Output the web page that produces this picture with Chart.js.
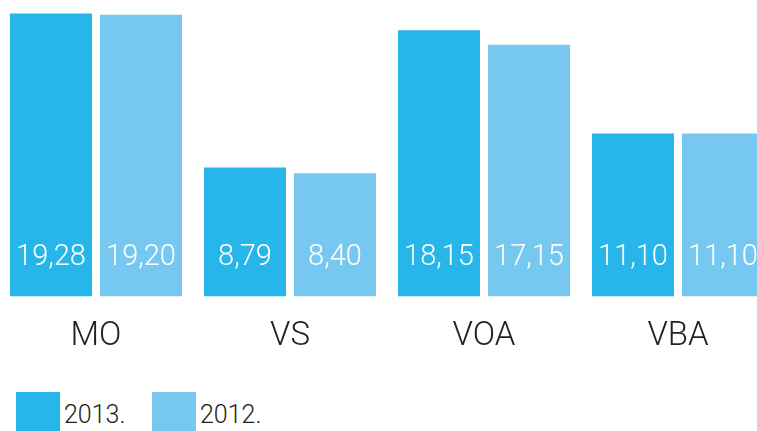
<!DOCTYPE html>
<html>
<head>
<meta charset="utf-8">
<script src="https://cdn.jsdelivr.net/npm/chart.js@4/dist/chart.umd.min.js"></script>
<style>
  html, body { margin: 0; padding: 0; width: 757px; height: 431px; overflow: hidden; background: #fff; }
  #wrap { position: absolute; left: -1px; top: 0; width: 776px; height: 378px; }
  #legend { position: absolute; left: 16px; top: 392px; font-family: Roboto, "Open Sans", sans-serif; font-weight: 300; font-size: 25px; color: #231f20; }
  .item { position: absolute; top: 0; white-space: nowrap; }
  .box { position: absolute; left: 0; top: 0; width: 44px; height: 42px; }
  .lbl { position: absolute; left: 48px; top: 8px; line-height: 30px; }
</style>
</head>
<body>
<div id="wrap"><canvas id="c"></canvas></div>
<div id="legend"></div>
<script>
const categories = ["MO", "VS", "VOA", "VBA"];
const seriesNames = ["2013.", "2012."];
const values2013 = [19.28, 8.79, 18.15, 11.10];
const values2012 = [19.20, 8.40, 17.15, 11.10];
const colors = ["#27b6e9", "#77c8f0"];

const valueLabels = {
  id: 'valueLabels',
  afterDatasetsDraw(chart) {
    const ctx = chart.ctx;
    ctx.save();
    ctx.fillStyle = '#ffffff';
    ctx.font = '300 29px Roboto, "Open Sans", sans-serif';
    ctx.textAlign = 'center';
    ctx.textBaseline = 'alphabetic';
    chart.data.datasets.forEach((ds, di) => {
      chart.getDatasetMeta(di).data.forEach((bar, i) => {
        const txt = ds.data[i].toFixed(2).replace('.', ',');
        ctx.fillText(txt, bar.x, chart.chartArea.bottom - 31);
      });
    });
    ctx.restore();
  }
};

new Chart(document.getElementById('c'), {
  type: 'bar',
  data: {
    labels: categories,
    datasets: [
      { label: seriesNames[0], data: values2013, backgroundColor: colors[0] },
      { label: seriesNames[1], data: values2012, backgroundColor: colors[1] }
    ]
  },
  options: {
    responsive: true,
    maintainAspectRatio: false,
    animation: false,
    events: [],
    categoryPercentage: 180 / 194,
    barPercentage: 82 / 90,
    layout: { padding: { top: 3, left: 0, right: 0, bottom: 0 } },
    plugins: { legend: { display: false }, tooltip: { enabled: false } },
    scales: {
      y: { display: false, min: 0, max: 20 },
      x: {
        grid: { display: false, drawTicks: false },
        border: { display: false },
        ticks: { color: '#231f20', font: { family: 'Roboto, "Open Sans", sans-serif', size: 33, weight: 300 }, padding: 21 }
      }
    }
  },
  plugins: [valueLabels]
});

const legend = document.getElementById('legend');
seriesNames.forEach((n, i) => {
  const it = document.createElement('div');
  it.className = 'item';
  it.style.left = (i * 136) + 'px';
  it.innerHTML = '<div class="box" style="background:' + colors[i] + '"></div><div class="lbl">' + n + '</div>';
  legend.appendChild(it);
});
</script>
</body>
</html>
